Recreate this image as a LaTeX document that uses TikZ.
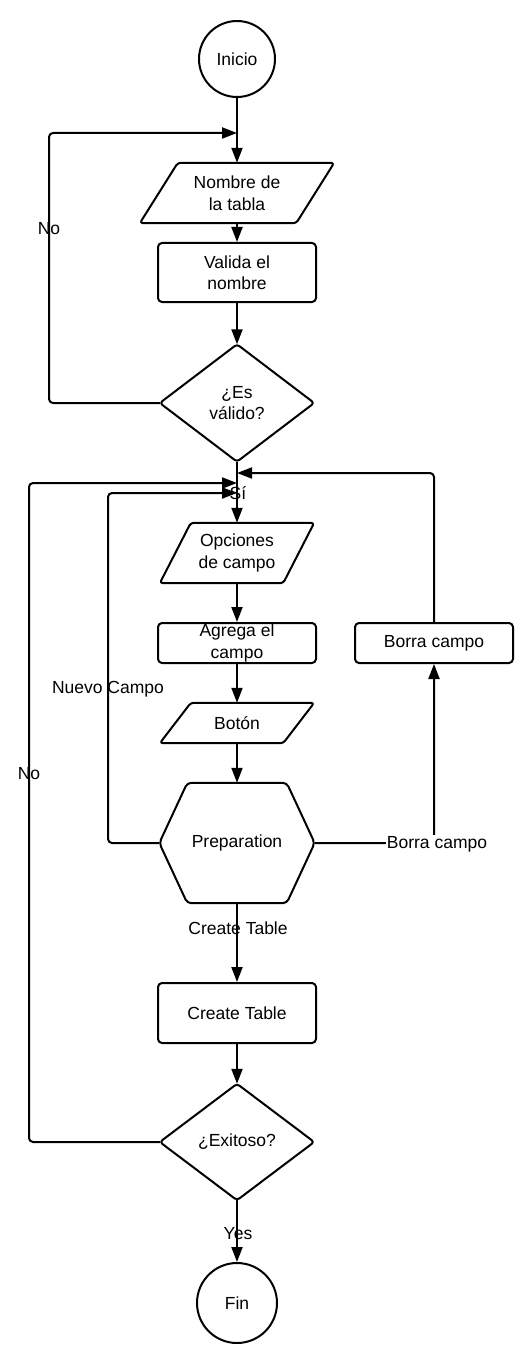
\documentclass[tikz,border=0pt]{standalone}
\usepackage{fontspec}
\setmainfont{Liberation Sans}
\usetikzlibrary{arrows.meta}
\begin{document}
\begin{tikzpicture}[x=1pt,y=-1pt,
  every node/.style={font=\fontsize{17.5}{21.5}\selectfont, align=center, inner sep=0pt},
  ln/.style={line width=2pt, line join=round},
  conn/.style={ln, rounded corners=4pt, -{Triangle[length=15pt,width=11pt]}},
  proc/.style={draw, ln, rounded corners=4pt, minimum width=158pt},
  term/.style={draw, ln, circle},
  lab/.style={inner sep=0pt}
]
\fill[white] (0,0) rectangle (528,1348);
\useasboundingbox (0,0) rectangle (528,1348);

% terminals
\node[term, minimum size=76pt] (inicio) at (237,59) {Inicio};
\node[term, minimum size=80pt] (fin) at (237,1303) {Fin};

% parallelograms (holders, outlines drawn below)
\node[minimum width=194pt, minimum height=60pt] (nombre) at (237,193) {Nombre de\\la tabla};
\node[minimum width=154pt, minimum height=60pt] (opciones) at (237,553) {Opciones\\de campo};
\node[minimum width=154pt, minimum height=40pt] (boton) at (237,723) {Botón};
\foreach \n/\s in {nombre/38, opciones/31, boton/31}{
  \draw[ln, rounded corners=3pt] ([xshift=\s pt]\n.north west) -- (\n.north east)
     -- ([xshift=-\s pt]\n.south east) -- (\n.south west) -- cycle;
}

% processes
\node[proc, minimum height=59pt] (valida) at (237,272.5) {Valida el\\nombre};
\node[proc, minimum height=40pt] (agrega) at (237,643) {Agrega el\\campo};
\node[proc, minimum height=40pt] (borra) at (434,643) {Borra campo};
\node[proc, minimum height=60pt] (create) at (237,1013) {Create Table};

% decisions
\node[minimum width=154pt, minimum height=117pt] (esvalido) at (237,403) {¿Es\\válido?};
\node[minimum width=154pt, minimum height=116pt] (exitoso) at (237,1142) {¿Exitoso?};
\foreach \n in {esvalido, exitoso}{
  \draw[ln, rounded corners=3pt] (\n.north) -- (\n.east) -- (\n.south) -- (\n.west) -- cycle;
}

% hexagon
\node[minimum width=155pt, minimum height=120pt] (prep) at (237,843) {Preparation};
\draw[ln, rounded corners=4pt] (prep.west) -- ([xshift=28pt]prep.north west) -- ([xshift=-28pt]prep.north east)
   -- (prep.east) -- ([xshift=-28pt]prep.south east) -- ([xshift=28pt]prep.south west) -- cycle;

% junction coordinates
\coordinate (j1) at (237,133);
\coordinate (j2) at (237,473);
\coordinate (j3) at (237,483);
\coordinate (j4) at (237,493);

% main flow
\draw[ln] (inicio.south) -- (j1);
\draw[conn] (j1) -- (nombre.north);
\draw[conn] (nombre.south) -- (valida.north);
\draw[conn] (valida.south) -- (esvalido.north);
\draw[conn] (esvalido.south) -- (opciones.north);
\draw[conn] (opciones.south) -- (agrega.north);
\draw[conn] (agrega.south) -- (boton.north);
\draw[conn] (boton.south) -- (prep.north);
\draw[conn] (prep.south) -- (create.north);
\draw[conn] (create.south) -- (exitoso.north);
\draw[conn] (exitoso.south) -- (fin.north);

% loops
\draw[conn] (esvalido.west) -- (49,403) -- (49,133) -- (j1);
\draw[conn] (prep.west) -- (108,843) -- (108,493) -- (j4);
\draw[conn] (prep.east) -- (434,843) -- (borra.south);
\draw[conn] (borra.north) -- (434,473) -- (j2);
\draw[conn] (exitoso.west) -- (29,1142) -- (29,483) -- (j3);

% labels
\node[lab] (lno1) at (49,229) {No};
\node[lab] (lsi) at (238,493) {Sí};
\node[lab] (lnuevo) at (108,689) {Nuevo Campo};
\node[lab, fill=white, inner sep=1pt] (lborra) at (437,844) {Borra campo};
\node[lab] (lno2) at (29,774) {No};
\node[lab] (lcreate) at (238,928) {Create Table};
\node[lab] (lyes) at (238,1234) {Yes};
\end{tikzpicture}
\end{document}
